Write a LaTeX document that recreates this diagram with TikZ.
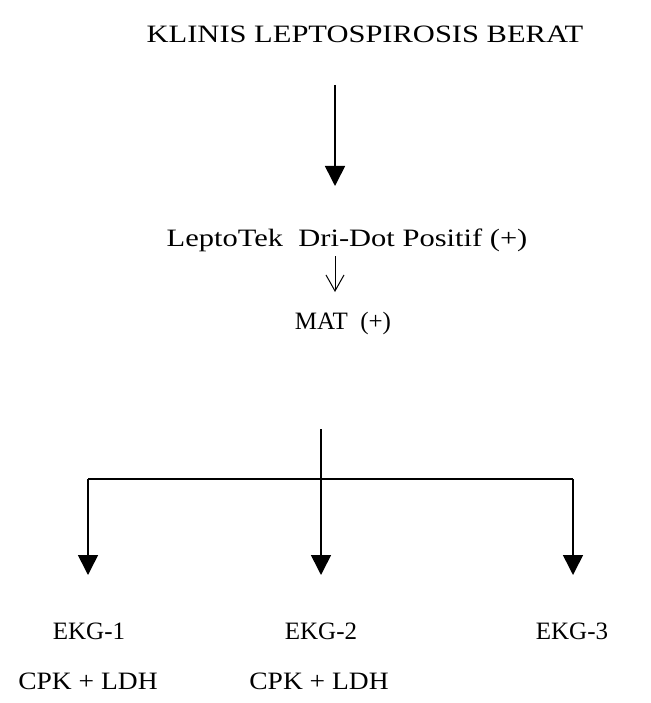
\documentclass[tikz,border=0pt]{standalone}
\usepackage{fontspec}
\setmainfont{Liberation Serif}
\usetikzlibrary{arrows.meta}
\begin{document}
\begin{tikzpicture}[x=1pt, y=-1pt]
    \tikzset{
        txt/.style={font=\fontsize{25}{30}\selectfont, inner sep=0pt, anchor=base},
        flow/.style={line width=1.6pt, -{Triangle[width=20pt,length=20pt]}},
        thinflow/.style={line width=1pt, -{Straight Barb[width=18pt,length=16pt]}},
        branch/.style={line width=1.3pt}
    }
    \useasboundingbox (0,0) rectangle (650,703);

    % Text lines
    \node[txt, xscale=1.22] (title) at (365,43) {KLINIS LEPTOSPIROSIS BERAT};
    \node[txt, xscale=1.22] (dridot) at (347,246) {LeptoTek\ \ Dri-Dot Positif (+)};
    \node[txt] (mat) at (343,329) {MAT\ \ (+)};
    \node[txt] (ekgA) at (89,639) {EKG-1};
    \node[txt] (ekgB) at (321,639) {EKG-2};
    \node[txt] (ekgC) at (572,639) {EKG-3};
    \node[txt, xscale=1.1] (cpkA) at (88,689) {CPK + LDH};
    \node[txt, xscale=1.1] (cpkB) at (319,689) {CPK + LDH};

    % Arrows between the stages
    \coordinate (topStart) at (335,85);
    \coordinate (topEnd) at (335,186);
    \draw[flow] (topStart) -- (topEnd);
    \coordinate (midStart) at (335,256);
    \coordinate (midEnd) at (335,292);
    \draw[thinflow] (midStart) -- (midEnd);

    % Fork to the three EKG
    \coordinate (forkTop) at (321,429);
    \coordinate (fork) at (321,479);
    \coordinate (forkL) at (88,479);
    \coordinate (forkR) at (573,479);
    \coordinate (tipA) at (88,575);
    \coordinate (tipB) at (321,575);
    \coordinate (tipC) at (573,575);
    \draw[branch] (forkTop) -- (fork);
    \draw[branch] (forkL) -- (forkR);
    \draw[flow] (forkL) -- (tipA);
    \draw[flow] (fork) -- (tipB);
    \draw[flow] (forkR) -- (tipC);

\end{tikzpicture}
\end{document}
